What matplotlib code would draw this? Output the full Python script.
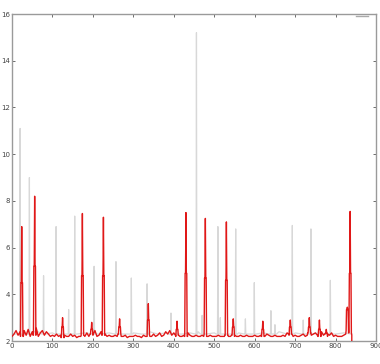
import numpy as np
import matplotlib
matplotlib.use("Agg")
import matplotlib.pyplot as plt

# ---- data ----
x_ticks = [0, 100, 200, 300, 400, 500, 600, 700, 800, 900]
y_ticks = [2, 4, 6, 8, 10, 12, 14, 16]

# red series: baseline samples (every 5 units) and spikes
red_base_x = list(range(0, 841, 5))
red_base_y = [2.2, 2.3, 2.45, 2.25, 2.4, 2.2, 2.45, 2.25, 2.5, 2.2,
              2.4, 2.25, 2.55, 2.2, 2.35, 2.45, 2.25, 2.4, 2.3, 2.2,
              2.25, 2.2, 2.3, 2.2, 2.25, 2.15, 2.25, 2.2, 2.2, 2.3,
              2.2, 2.25, 2.15, 2.2, 2.2, 2.25, 2.2, 2.35, 2.2, 2.3,
              2.25, 2.45, 2.2, 2.25, 2.4, 2.25, 2.3, 2.2, 2.25, 2.2,
              2.2, 2.25, 2.2, 2.3, 2.2, 2.2, 2.25, 2.15, 2.2, 2.2,
              2.2, 2.25, 2.2, 2.2, 2.15, 2.25, 2.2, 2.2, 2.25, 2.2,
              2.3, 2.2, 2.25, 2.35, 2.2, 2.25, 2.4, 2.3, 2.45, 2.25,
              2.35, 2.2, 2.25, 2.2, 2.2, 2.25, 2.2, 2.35, 2.25, 2.2,
              2.2, 2.25, 2.2, 2.2, 2.25, 2.3, 2.2, 2.2, 2.25, 2.2,
              2.2, 2.2, 2.25, 2.2, 2.2, 2.2, 2.25, 2.2, 2.2, 2.25,
              2.2, 2.2, 2.2, 2.25, 2.2, 2.2, 2.25, 2.2, 2.2, 2.2,
              2.25, 2.2, 2.2, 2.25, 2.2, 2.2, 2.3, 2.25, 2.2, 2.2,
              2.25, 2.2, 2.2, 2.2, 2.25, 2.2, 2.35, 2.25, 2.3, 2.2,
              2.25, 2.2, 2.2, 2.25, 2.3, 2.2, 2.25, 2.35, 2.25, 2.3,
              2.35, 2.25, 2.2, 2.4, 2.25, 2.3, 2.2, 2.25, 2.35, 2.2,
              2.25, 2.2, 2.2, 2.2, 2.25, 2.3, 2.45, 2.35, 2.25]
red_spike_x = [24, 56, 125, 174, 197, 226, 266, 337, 408, 430,
               478, 530, 547, 620, 688, 735, 760, 777, 829, 836]
red_spike_peak = [6.9, 8.2, 3.0, 7.46, 2.8, 7.3, 2.95, 3.6, 2.85, 7.5,
                  7.25, 7.1, 2.95, 2.85, 2.9, 3.0, 2.9, 2.5, 3.45, 7.55]
red_spike_shoulder = [4.5, 5.2, 2.6, 4.8, 2.5, 4.8, 2.6, 2.9, 2.5, 4.9,
                      4.7, 4.6, 2.6, 2.5, 2.6, 2.6, 2.5, 2.35, 3.35, 4.9]

# gray series: baseline samples and spikes
gray_base_x = list(range(0, 841, 20))
gray_base_y = [2.3, 2.4, 2.35, 2.45, 2.4, 2.35, 2.3, 2.35, 2.3, 2.35,
               2.3, 2.3, 2.35, 2.3, 2.3, 2.35, 2.3, 2.4, 2.3, 2.35,
               2.3, 2.3, 2.35, 2.4, 2.3, 2.35, 2.3, 2.3, 2.35, 2.3,
               2.3, 2.35, 2.3, 2.4, 2.3, 2.35, 2.3, 2.3, 2.35, 2.3,
               2.3, 2.35, 2.3]
gray_spike_x = [20, 43, 78, 109, 140, 155, 203, 257, 295, 334, 393,
                456, 470, 509, 515, 553, 577, 599, 640, 650, 693, 720,
                739, 787]
gray_spike_peak = [11.1, 9.0, 4.8, 6.9, 3.35, 7.35, 5.2, 5.4, 4.7, 4.45,
                   3.2, 15.2, 3.1, 6.9, 3.0, 6.8, 2.95, 4.5, 3.3, 2.7,
                   6.95, 2.9, 6.8, 4.6]
gray_spike_foot = 2.3


def merge(base_x, base_y, sx, speak, shoulder=None, foot=None):
    pts = dict(zip(base_x, base_y))
    xs_b = np.array(base_x)
    ys_b = np.array(base_y)
    for i, (x, p) in enumerate(zip(sx, speak)):
        f = foot if foot is not None else ys_b[np.argmin(np.abs(xs_b - x))]
        for k in (x - 4, x - 3, x + 3, x + 4):
            pts.setdefault(k, f)
            if k not in base_x:
                pts[k] = f
        s = shoulder[i] if shoulder is not None else f
        for k in (x - 2, x - 1, x + 1, x + 2):
            pts[k] = s if shoulder is not None or abs(k - x) > 1 else f
        if shoulder is None:
            for k in (x - 2, x - 1, x + 1, x + 2):
                pts[k] = f
        pts[x] = p
    xs = sorted(pts)
    return xs, [pts[k] for k in xs]


fig = plt.figure(figsize=(3.8, 3.64), dpi=100)
ax = fig.add_axes([0.0316, 0.063, 0.958, 0.8985])

gx, gy = merge(gray_base_x, gray_base_y, gray_spike_x, gray_spike_peak,
               foot=gray_spike_foot)
ax.plot(gx, gy, color="#d8d8d8", lw=0.9, zorder=2)

rx, ry = merge(red_base_x, red_base_y, red_spike_x, red_spike_peak,
               shoulder=red_spike_shoulder)
rx = rx + [rx[-1]]
ry = ry + [2.0]
ax.plot(rx, ry, color="#e01818", lw=1.0, zorder=3)

# legend remnant at top right
ax.plot([0.945, 0.978], [0.995, 0.995], transform=ax.transAxes,
        color="#aaaaaa", lw=1.0, clip_on=False)

ax.set_xlim(0, 900)
ax.set_ylim(2, 16)
ax.set_xticks(x_ticks)
ax.set_yticks(y_ticks)
ax.tick_params(direction="in", length=2.5, width=0.6, labelsize=5,
               colors="#555555", top=True, right=True, pad=1.5)
ax.tick_params(labelcolor="#444444")
for s in ax.spines.values():
    s.set_color("#9a9a9a")
    s.set_linewidth(1.0)

fig.savefig("out.png", dpi=100)
